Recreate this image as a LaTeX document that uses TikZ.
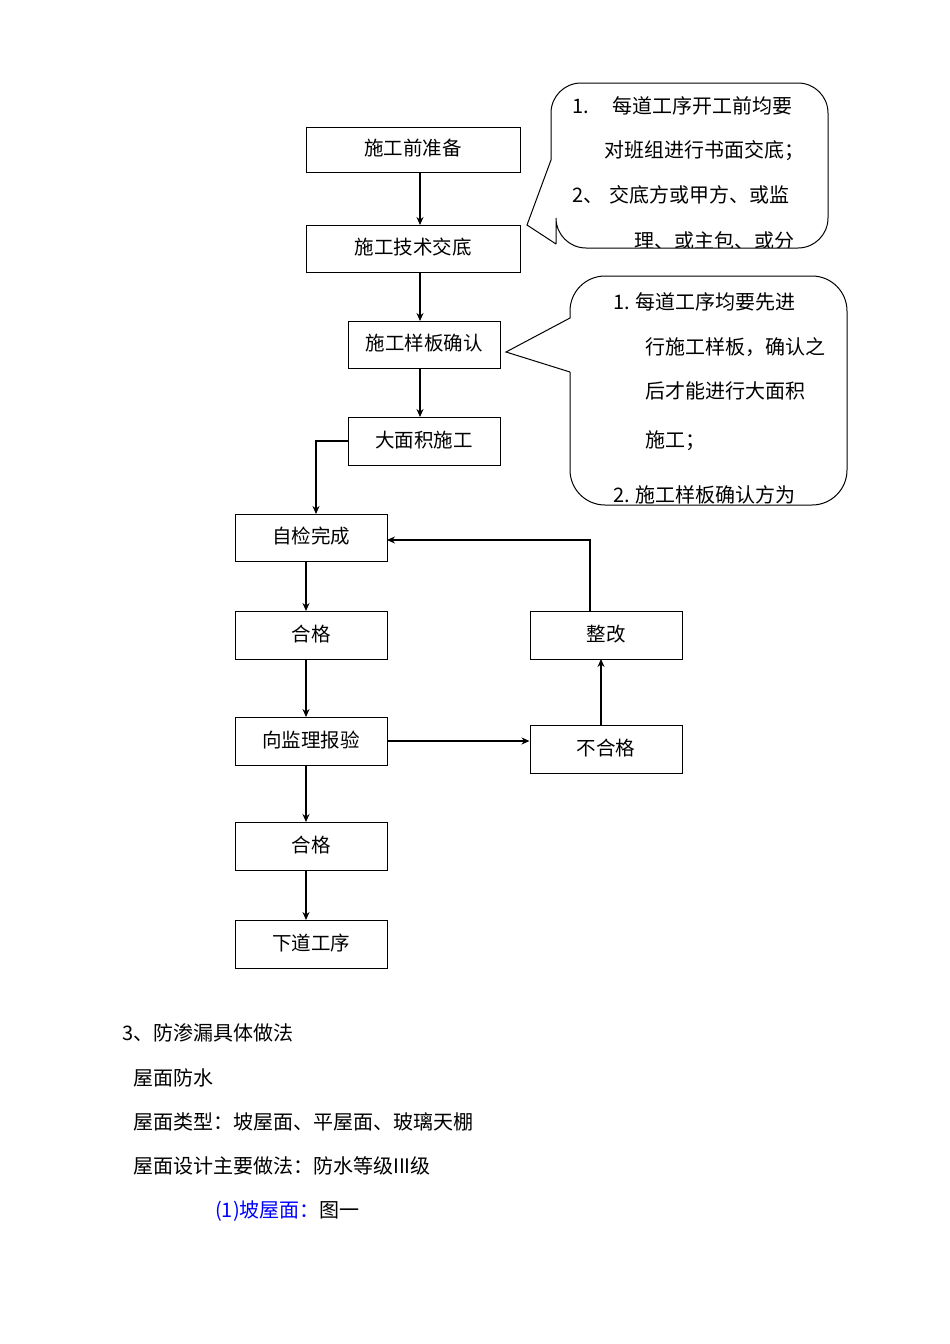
\documentclass[tikz,border=0pt]{standalone}
\usepackage{fontspec}
\setmainfont{Noto Sans CJK SC}
\usetikzlibrary{arrows.meta}
\begin{document}
\begin{tikzpicture}[x=1pt,y=-1pt,
 box/.style={draw,line width=1pt,inner sep=0pt,font=\fontsize{19.5}{20}\selectfont},
 arr/.style={line width=1.2pt,-{Stealth[length=8pt,width=7pt]}},
 txt/.style={anchor=west,inner sep=0pt,font=\fontsize{20}{22}\selectfont},
 call/.style={line width=1pt}]
\useasboundingbox (0,0) rectangle (950,1344);
\newcommand\bx[6]{\node[box,minimum width=#4-#2,minimum height=#5-#3] (#1) at ({(#2+#4)/2},{(#3+#5)/2}) {\raisebox{4pt}{#6}\hspace{4pt}};}
\bx{a}{306}{127}{520}{172}{施工前准备}
\bx{b}{306}{225}{520}{272}{施工技术交底}
\bx{c}{348}{321}{500}{368}{施工样板确认}
\bx{d}{348}{417}{500}{465}{大面积施工}
\bx{e}{235}{514}{387}{561}{自检完成}
\bx{f}{235}{611}{387}{659}{合格}
\bx{g}{530}{611}{682}{659}{整改}
\bx{h}{235}{717}{387}{765}{向监理报验}
\bx{i}{530}{725}{682}{773}{不合格}
\bx{j}{235}{822}{387}{870}{合格}
\bx{k}{235}{920}{387}{968}{下道工序}
\draw[arr] (420,172) -- (420,225);
\draw[arr] (420,272) -- (420,321);
\draw[arr] (420,368) -- (420,417);
\draw[arr] (d.west) -- (316,441) -- (316,514);
\draw[arr] (306,561) -- (306,611);
\draw[arr] (306,659) -- (306,717);
\draw[arr] (h.east) -- (i.west |- h.east);
\draw[arr] (601,725) -- (601,659);
\draw[arr] (590,611) -- (590,540) -- (387,540);
\draw[arr] (306,765) -- (306,822);
\draw[arr] (306,870) -- (306,920);
% callout 1
\coordinate (p1) at (527,225);
\draw[call] (556,244) -- (p1) -- (551,160) [rounded corners=30] -- (551,83) -- (828,83) -- (828,248) -- (556,248) [sharp corners] -- (556,244);
\begin{scope}
\clip (540,84) rectangle (827,247);
\node[txt] (c1a) at (572,106) {1.\hspace{1.2em}每道工序开工前均要};
\node[txt] (c1b) at (604,151) {对班组进行书面交底；};
\node[txt] (c1c) at (572,195) {2、\hspace{0.3em}交底方或甲方、或监};
\node[txt] (c1d) at (634,241) {理、或主包、或分};
\end{scope}
% callout 2
\coordinate (p2) at (506,352);
\draw[call] (570,372) -- (p2) -- (570,318) [rounded corners=35] -- (570,276) -- (847,276) -- (847,505) -- (570,505) [sharp corners] -- (570,372);
\begin{scope}
\clip (560,277) rectangle (846,504);
\node[txt] (c2a) at (613,302) {1. 每道工序均要先进};
\node[txt] (c2b) at (645,347) {行施工样板，确认之};
\node[txt] (c2c) at (645,391) {后才能进行大面积};
\node[txt] (c2d) at (645,441) {施工；};
\node[txt] (c2e) at (613,495) {2. 施工样板确认方为};
\end{scope}
\node[txt] (t1) at (122,1033) {3、防渗漏具体做法};
\node[txt] (t2) at (133,1078) {屋面防水};
\node[txt] (t3) at (133,1122) {屋面类型：坡屋面、平屋面、玻璃天棚};
\node[txt] (t4) at (133,1166) {屋面设计主要做法：防水等级III级};
\node[txt] (t5) at (215,1211) {\textcolor{blue}{(1)坡屋面：}图一};
\end{tikzpicture}
\end{document}
